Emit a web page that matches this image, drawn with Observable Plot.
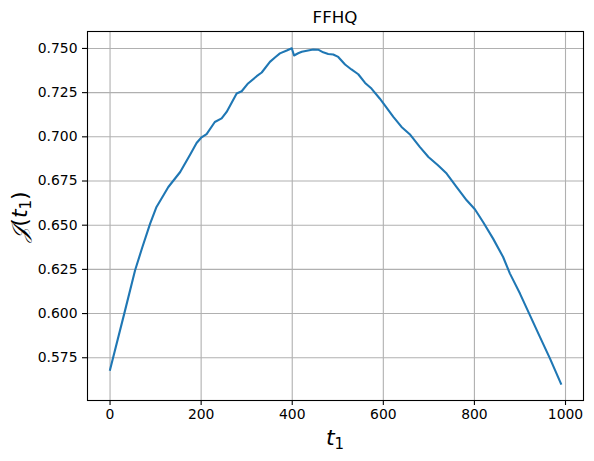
<!DOCTYPE html>
<html>
<head>
<meta charset="utf-8">
<script src="https://cdn.jsdelivr.net/npm/d3@7"></script>
<script src="https://cdn.jsdelivr.net/npm/@observablehq/plot@0.6"></script>
<style>
  html, body { margin: 0; padding: 0; background: white; }
</style>
</head>
<body>
<div id="chart"></div>
<script>
const title = "FFHQ";
const xTicks = [0, 200, 400, 600, 800, 1000];
const yTicks = [0.575, 0.600, 0.625, 0.650, 0.675, 0.700, 0.725, 0.750];
const t1 = [0, 33, 55, 70, 88, 102, 128, 154, 176, 190, 200, 212, 230, 245, 256, 278, 289, 303, 322, 333, 351, 362, 373, 388, 399, 404, 413, 421, 432, 446, 457, 468, 479, 490, 501, 516, 530, 545, 560, 574, 592, 603, 622, 640, 658, 680, 699, 720, 739, 761, 783, 801, 819, 841, 863, 878, 900, 922, 944, 966, 990];
const J = [0.5682, 0.6018, 0.6245, 0.6368, 0.6509, 0.6603, 0.6716, 0.6801, 0.6900, 0.6965, 0.6995, 0.7015, 0.7084, 0.7104, 0.7141, 0.7245, 0.7258, 0.7302, 0.7343, 0.7364, 0.7424, 0.7449, 0.7472, 0.7488, 0.7501, 0.7460, 0.7473, 0.7481, 0.7487, 0.7494, 0.7493, 0.7478, 0.7469, 0.7466, 0.7452, 0.7409, 0.7381, 0.7354, 0.7305, 0.7273, 0.7217, 0.7179, 0.7113, 0.7056, 0.7015, 0.6943, 0.6886, 0.6839, 0.6792, 0.6716, 0.6641, 0.6590, 0.6518, 0.6424, 0.6320, 0.6226, 0.6113, 0.5990, 0.5867, 0.5745, 0.5603];

const data = t1.map((t, i) => ({t, j: J[i]}));

const xExt = d3.extent(t1), yExt = d3.extent(J);
const xPad = (xExt[1] - xExt[0]) * 0.05, yPad = (yExt[1] - yExt[0]) * 0.05;

const W = 594, H = 461;
const mL = 87, mR = 11, mT = 31, mB = 61;

const svg = Plot.plot({
  width: W, height: H,
  marginLeft: mL, marginRight: mR, marginTop: mT, marginBottom: mB,
  style: {fontFamily: "DejaVu Sans", fontSize: "13.9px", color: "black", background: "white", overflow: "visible"},
  x: {domain: [xExt[0] - xPad, xExt[1] + xPad], ticks: xTicks, label: null},
  y: {domain: [yExt[0] - yPad, yExt[1] + yPad], ticks: yTicks, label: null},
  marks: [
    Plot.gridX(xTicks, {stroke: "#b0b0b0", strokeOpacity: 1, strokeWidth: 1.1}),
    Plot.gridY(yTicks, {stroke: "#b0b0b0", strokeOpacity: 1, strokeWidth: 1.1}),
    Plot.line(data, {x: "t", y: "j", stroke: "#1f77b4", strokeWidth: 2.1, strokeLinejoin: "round", strokeLinecap: "square"}),
    Plot.frame({stroke: "black", strokeWidth: 1.1}),
    Plot.axisX(xTicks, {tickSize: 5, tickPadding: 4, strokeWidth: 1.1, label: null, tickFormat: d3.format("d"), fontSize: 13.9}),
    Plot.axisY(yTicks, {tickSize: 5, tickPadding: 5, strokeWidth: 1.1, label: null, tickFormat: d3.format(".3f"), fontSize: 13.9})
  ]
});
document.getElementById("chart").appendChild(svg);

const s = d3.select(svg);
const cx = (mL + (W - mR)) / 2;
s.append("text")
  .attr("x", cx).attr("y", 23)
  .attr("text-anchor", "middle")
  .attr("font-family", "DejaVu Sans").attr("font-size", 16.7)
  .attr("fill", "black")
  .text(title);

const xl = s.append("text")
  .attr("x", cx).attr("y", 445)
  .attr("text-anchor", "middle")
  .attr("font-family", "DejaVu Sans").attr("font-size", 22)
  .attr("fill", "black");
xl.append("tspan").attr("font-style", "italic").text("t");
xl.append("tspan").attr("font-size", 15).attr("dy", 4).text("1");

const cy = (mT + (H - mB)) / 2;
const yl = s.append("text")
  .attr("transform", `translate(27,${cy + 1}) rotate(-90)`)
  .attr("text-anchor", "middle")
  .attr("font-family", "DejaVu Serif").attr("font-size", 22)
  .attr("fill", "black");
yl.append("tspan").attr("font-style", "italic").text("𝒥");
yl.append("tspan").attr("font-family", "DejaVu Sans").text("(");
yl.append("tspan").attr("font-family", "DejaVu Sans").attr("font-style", "italic").text("t");
yl.append("tspan").attr("font-family", "DejaVu Sans").attr("font-size", 15).attr("dy", 4).text("1");
yl.append("tspan").attr("font-family", "DejaVu Sans").attr("dy", -4).text(")");
</script>
</body>
</html>
